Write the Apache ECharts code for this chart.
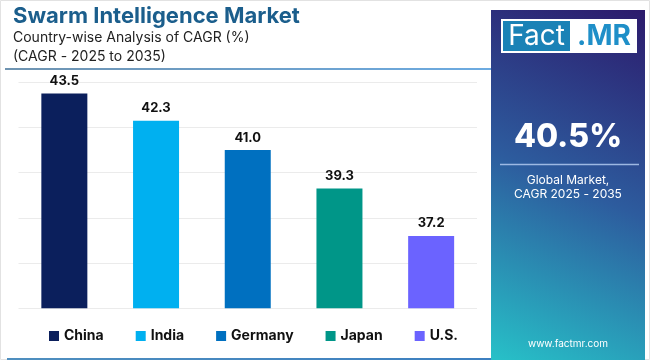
<!DOCTYPE html>
<html>
<head>
<meta charset="utf-8">
<script src="https://cdn.jsdelivr.net/npm/echarts@6/dist/echarts.min.js"></script>
<style>
html,body{margin:0;padding:0;background:#fff;}
#chart{width:650px;height:360px;}
</style>
</head>
<body>
<div id="chart"></div>
<script>
const categories = ['China', 'India', 'Germany', 'Japan', 'U.S.'];
const cagrValues = [43.5, 42.3, 41.0, 39.3, 37.2];
const barColors = ['#0b1f5c', '#00b0f0', '#0070c0', '#009688', '#6b63ff'];
const globalCagr = '40.5%';

const FONT = 'Inter, "Noto Sans", sans-serif';
const chart = echarts.init(document.getElementById('chart'), null, {renderer: 'canvas'});

const series = categories.map((name, i) => ({
  name: name,
  type: 'bar',
  barWidth: 46,
  barGap: '-100%',
  itemStyle: { color: barColors[i] },
  label: {
    show: true,
    position: 'top',
    distance: 6,
    color: '#111',
    fontFamily: FONT,
    fontWeight: 'bold',
    fontSize: 13,
    formatter: p => Number(p.value).toFixed(1)
  },
  data: categories.map((c, j) => (j === i ? cagrValues[i] : '-'))
}));

const option = {
  backgroundColor: '#ffffff',
  animation: false,
  grid: { left: 18.5, right: 173, top: 82.3, bottom: 51.7 },
  xAxis: {
    type: 'category',
    data: categories,
    axisLine: { show: false },
    axisTick: { show: false },
    axisLabel: { show: false }
  },
  yAxis: {
    type: 'value',
    min: 34, max: 44, interval: 2,
    axisLine: { show: false },
    axisTick: { show: false },
    axisLabel: { show: false },
    splitLine: { lineStyle: { color: '#ebebeb', width: 1 } }
  },
  legend: {
    data: categories,
    left: 44,
    top: 324,
    icon: 'rect',
    itemWidth: 10,
    itemHeight: 10,
    itemGap: 32,
    textStyle: { fontFamily: FONT, fontWeight: 'bold', fontSize: 14, color: '#111' }
  },
  series: series,
  graphic: [
    { type: 'rect', shape: { x: 0.5, y: 0.5, width: 649, height: 359 }, style: { fill: 'none', stroke: '#e2e2e2', lineWidth: 1 }, z: 0 },
    { type: 'text', x: 13, y: 16, style: { text: 'Swarm Intelligence Market', font: 'bold 22px ' + FONT, fill: '#1b5e8c', textVerticalAlign: 'middle' } },
    { type: 'text', x: 13, y: 38, style: { text: 'Country-wise Analysis of CAGR (%)', font: '14px ' + FONT, fill: '#222', textVerticalAlign: 'middle' } },
    { type: 'text', x: 13, y: 57, style: { text: '(CAGR - 2025 to 2035)', font: '14px ' + FONT, fill: '#222', textVerticalAlign: 'middle' } },
    { type: 'line', shape: { x1: 5, y1: 69, x2: 492, y2: 69 }, style: { stroke: new echarts.graphic.LinearGradient(0, 0, 1, 0, [{offset: 0, color: '#3e6f96'}, {offset: 1, color: '#3b8fd8'}]), lineWidth: 1.5 } },
    { type: 'line', shape: { x1: 7, y1: 359, x2: 492, y2: 359 }, style: { stroke: new echarts.graphic.LinearGradient(0, 0, 1, 0, [{offset: 0, color: '#4f8fbf'}, {offset: 1, color: '#3c7fc0'}]), lineWidth: 2 } },
    { type: 'rect', shape: { x: 491, y: 10, width: 154, height: 350 },
      style: { fill: new echarts.graphic.LinearGradient(1, 0, 0, 1, [
        {offset: 0, color: '#2c1a6c'},
        {offset: 0.5, color: '#2d5c9e'},
        {offset: 1, color: '#27c1c8'}
      ]) } },
    { type: 'rect', shape: { x: 501, y: 19, width: 136, height: 34 }, style: { fill: '#ffffff' } },
    { type: 'rect', shape: { x: 503, y: 21, width: 67, height: 30 }, style: { fill: '#1a82b6' } },
    { type: 'text', x: 536.5, y: 36.5, style: { text: 'Fact', font: '28px ' + FONT, fill: '#ffffff', textAlign: 'center', textVerticalAlign: 'middle' } },
    { type: 'text', x: 604, y: 36.5, style: { text: '.MR', font: 'bold 28px ' + FONT, fill: '#1f8fc8', textAlign: 'center', textVerticalAlign: 'middle' } },
    { type: 'text', x: 568, y: 137, style: { text: globalCagr, font: '800 32px ' + FONT, fill: '#ffffff', textAlign: 'center', textVerticalAlign: 'middle' } },
    { type: 'line', shape: { x1: 500, y1: 164.5, x2: 639, y2: 164.5 }, style: { stroke: 'rgba(170,195,235,0.9)', lineWidth: 1.5 } },
    { type: 'text', x: 568, y: 180, style: { text: 'Global Market,', font: '12px ' + FONT, fill: '#ffffff', textAlign: 'center', textVerticalAlign: 'middle' } },
    { type: 'text', x: 568, y: 194.5, style: { text: 'CAGR 2025 - 2035', font: '12px ' + FONT, fill: '#ffffff', textAlign: 'center', textVerticalAlign: 'middle' } },
    { type: 'text', x: 568, y: 344, style: { text: 'www.factmr.com', font: '10px ' + FONT, fill: '#ffffff', textAlign: 'center', textVerticalAlign: 'middle' } }
  ]
};
chart.setOption(option);
</script>
</body>
</html>
